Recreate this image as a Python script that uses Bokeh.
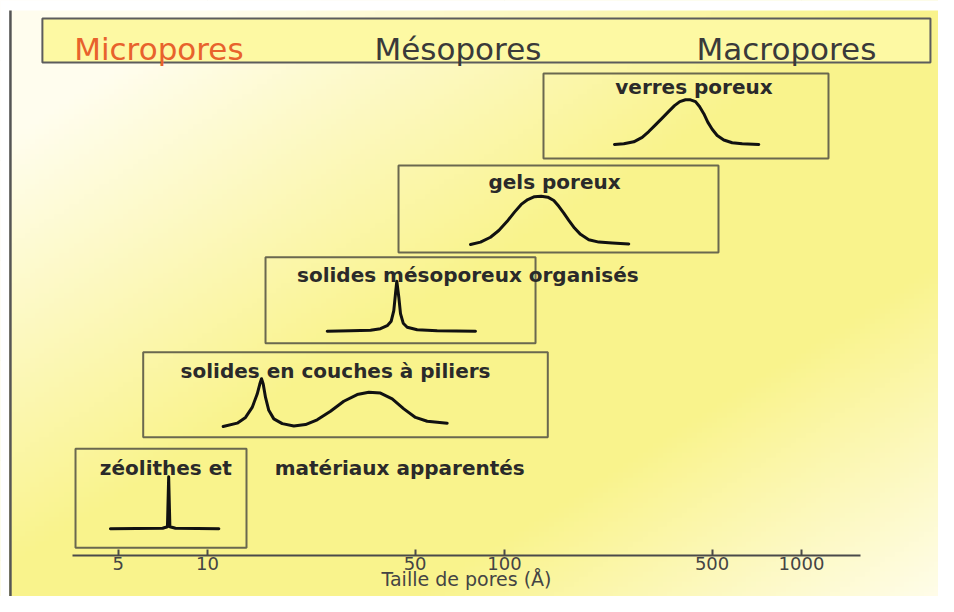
import numpy as np
from bokeh.plotting import figure
from bokeh.models import Range1d, LinearScale, LogAxis, FixedTicker, BasicTickFormatter
from bokeh.core.properties import value
from bokeh.embed import file_html
from bokeh.resources import INLINE

# ---------------- data ----------------
tick_values = [5, 10, 50, 100, 500, 1000]
axis_title = "Taille de pores (Å)"

classes = ["Micropores", "Mésopores", "Macropores"]
class_x = [6.86, 69.7, 890.0]          # pore size (Å) at which each class label is centred
class_colors = ["#e8622c", "#3a3a3a", "#3a3a3a"]

materials = ["verres poreux", "gels poreux", "solides mésoporeux organisés",
             "solides en couches à piliers", "zéolithes et", "matériaux apparentés"]
material_x = [434.5, 147.4, 75.25, 26.98, 7.24, 44.38]   # Å, label centre

box_lo = [135.3, 43.97, 15.68, 6.074, 3.594]    # Å, pore range of each box
box_hi = [1233.0, 525.5, 127.2, 139.9, 13.53]

verres_x = [234.6, 252.2, 272.5, 290.8, 306.1, 322.4, 339.6, 357.4, 373.6, 389.3, 406.9,
            422.9, 439.7, 453.5, 468.9, 483.6, 500.4, 520.2, 547.5, 584.4, 631.5, 718.2]
verres_y = [0, 0.015, 0.06, 0.16, 0.29, 0.44, 0.59, 0.74, 0.87, 0.96, 1.0,
            1.0, 0.96, 0.85, 0.69, 0.5, 0.34, 0.2, 0.1, 0.04, 0.015, 0]

gels_x = [76.84, 83.02, 89.70, 95.68, 102.1, 108.06, 113.83, 119.81, 126.19, 132.92, 139.9,
          146.56, 152.35, 158.37, 164.63, 172.07, 180.26, 192.23, 207.78, 230.5, 262.1]
gels_y = [0, 0.05, 0.15, 0.29, 0.48, 0.67, 0.83, 0.93, 0.99, 1.0, 0.98,
          0.91, 0.79, 0.65, 0.5, 0.34, 0.21, 0.1, 0.05, 0.03, 0.01]

meso_x = [25.30, 30.30, 35.39, 38.23, 40.28, 41.55, 42.39, 42.95, 43.39, 44.07, 44.65,
          45.60, 47.03, 50.82, 59.34, 79.86]
meso_y = [0, 0.01, 0.02, 0.05, 0.11, 0.2, 0.41, 0.75, 1.0, 0.68, 0.35,
          0.16, 0.08, 0.03, 0.01, 0]

pil_x = [11.29, 12.59, 13.43, 14.14, 14.70, 15.00, 15.20, 15.40, 15.68, 16.08, 16.72, 17.85,
         19.53, 21.38, 23.41, 25.95, 28.77, 31.92, 34.93, 38.23, 41.87, 45.81, 50.16, 54.92, 64.13]
pil_y = [0, 0.07, 0.19, 0.4, 0.68, 0.89, 1.0, 0.89, 0.61, 0.34, 0.16, 0.06,
         0.01, 0.04, 0.14, 0.32, 0.53, 0.67, 0.72, 0.7, 0.58, 0.37, 0.19, 0.11, 0.07]

zeo_x = [4.71, 7.06, 7.33, 7.40, 7.47, 7.80, 10.92]
zeo_y = [0, 0.01, 0.04, 1.0, 0.04, 0.01, 0]

# ---------------- layout (vertical positions, in plot units) ----------------
box_bottom = [402, 308, 217.3, 123.3, 12.7]
box_top = [487, 395, 303.3, 208.3, 111.7]
title_y = [473.3, 378.3, 286, 190, 92.3, 92.3]
curve_base = [416, 316, 229.3, 134, 31.7]
curve_amp = [44.7, 48.3, 50, 47.7, 52]

W, H = 938, 596
p = figure(width=W, height=H, x_axis_type="log",
           x_range=Range1d(2.009, 2893), y_range=Range1d(-36, 560),
           x_axis_location=None, y_axis_location=None,
           toolbar_location=None, output_backend="svg", min_border=0,
           outline_line_color=None, background_fill_color="#ffffff",
           border_fill_color="#ffffff")

# background gradient (white -> yellow -> white along the diagonal)
p.extra_x_ranges = {"bg": Range1d(0, 1)}
p.extra_y_ranges = {"bg": Range1d(0, 1)}
p.extra_x_scales = {"bg": LinearScale()}
p.extra_y_scales = {"bg": LinearScale()}
gh, gw = 120, 190
u = (np.arange(gw) + 0.5) / gw
w = 1 - (np.arange(gh) + 0.5) / gh
t = 0.5 * (u[None, :] + w[:, None])
f = np.interp(t, [0, 0.12, 0.48, 0.72, 1.0], [0, 0, 1, 1, 0.05])
c0 = np.array([255, 253, 238], dtype=float)
c1 = np.array([249, 243, 140], dtype=float)
rgb = c0[None, None, :] * (1 - f[..., None]) + c1[None, None, :] * f[..., None]
img = np.empty((gh, gw), dtype=np.uint32)
view = img.view(dtype=np.uint8).reshape((gh, gw, 4))
view[..., :3] = rgb.round().astype(np.uint8)
view[..., 3] = 255
p.image_rgba(image=[img], x=0, y=0, dw=1, dh=1, x_range_name="bg", y_range_name="bg")

# white page edge at top and left, and the slide's left rule
p.quad(left=[2.009, 2.009], right=[2893, 2.15], bottom=[550, -36], top=[560, 560],
       fill_color="#ffffff", line_color=None)
p.segment(x0=[2.17], y0=[-36], x1=[2.17], y1=[550], line_color="#555555", line_width=2.5)

# header band
p.quad(left=[2.78], right=[2718], bottom=[498], top=[542],
       fill_color="#fdf9a3", line_color="#5c5c5c", line_width=2)
p.text(x=class_x, y=[512] * 3, text=classes, text_color=class_colors,
       text_align="center", text_baseline="alphabetic",
       text_font=value("DejaVu Sans"), text_font_size="31px")

# material boxes
p.quad(left=box_lo, right=box_hi, bottom=box_bottom, top=box_top,
       fill_color=None, line_color="#6a684f", line_width=2)
p.text(x=material_x, y=title_y, text=materials, text_color="#2a2a2a",
       text_align="center", text_baseline="alphabetic",
       text_font=value("DejaVu Sans"), text_font_style="bold", text_font_size="20px")

# pore size distributions
curves_x = [verres_x, gels_x, meso_x, pil_x, zeo_x]
curves_y = [verres_y, gels_y, meso_y, pil_y, zeo_y]
xs = [list(cx) for cx in curves_x]
ys = [[b + a * v for v in cy] for cy, b, a in zip(curves_y, curve_base, curve_amp)]
p.multi_line(xs=xs, ys=ys, line_color="#111111", line_width=3,
             line_join="round", line_cap="round")

# pore size axis
ax = LogAxis(ticker=FixedTicker(ticks=tick_values), formatter=BasicTickFormatter(),
             fixed_location=5, bounds=(3.5, 1580), axis_label=axis_title)
ax.minor_tick_line_color = None
ax.major_tick_in = 6
ax.major_tick_out = 0
ax.major_tick_line_width = 2
ax.major_tick_line_color = "#4a4a4a"
ax.axis_line_width = 2
ax.axis_line_color = "#4a4a4a"
ax.major_label_text_font = "DejaVu Sans"
ax.major_label_text_font_size = "18px"
ax.major_label_text_color = "#444444"
ax.major_label_standoff = 1
ax.axis_label_text_font = "DejaVu Sans"
ax.axis_label_text_font_size = "19px"
ax.axis_label_text_font_style = "normal"
ax.axis_label_text_color = "#444444"
ax.axis_label_standoff = -5
p.add_layout(ax, "below")

open("out.html", "w").write(file_html(p, INLINE))
